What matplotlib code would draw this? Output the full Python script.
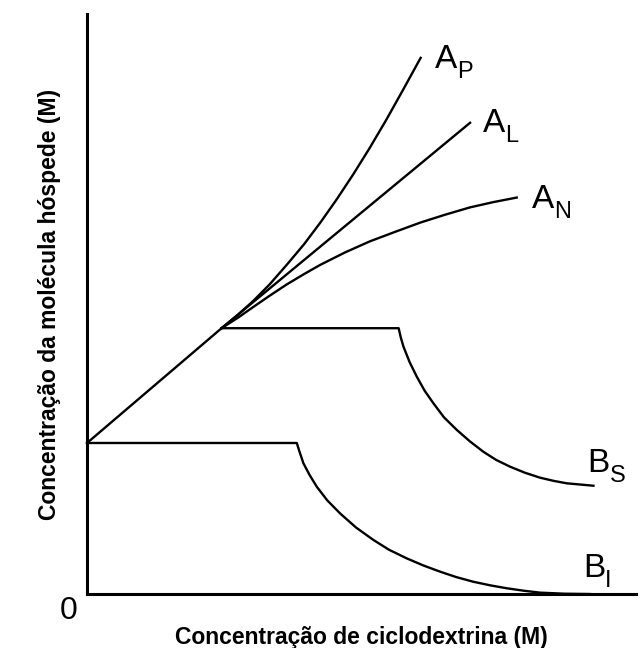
import matplotlib
matplotlib.use("Agg")
import matplotlib.pyplot as plt

# values (arbitrary units)
lin_x = [0.0, 0.98]
lin_y = [1.0, 1.76]

ap_x = [0.98, 1.10, 1.21, 1.33, 1.455, 1.58, 1.70, 1.82, 1.94, 2.06, 2.18, 2.30, 2.43]
ap_y = [1.76, 1.85, 1.94, 2.05, 2.18, 2.315, 2.46, 2.615, 2.78, 2.955, 3.14, 3.335, 3.55]

al_x = [0.98, 2.79]
al_y = [1.76, 3.12]

an_x = [0.98, 1.10, 1.21, 1.33, 1.455, 1.58, 1.70, 1.88, 2.06, 2.25, 2.43, 2.61, 2.79, 2.96, 3.13]
an_y = [1.76, 1.83, 1.90, 1.975, 2.05, 2.118, 2.18, 2.262, 2.335, 2.40, 2.46, 2.512, 2.56, 2.595, 2.625]

bs_x = [0.98, 2.27, 2.285, 2.305, 2.35, 2.402, 2.46, 2.523, 2.60, 2.694, 2.79, 2.887,
        2.98, 3.082, 3.19, 3.301, 3.40, 3.495, 3.689]
bs_y = [1.76, 1.76, 1.70, 1.638, 1.535, 1.439, 1.345, 1.263, 1.17, 1.086, 1.01, 0.942,
        0.888, 0.843, 0.803, 0.770, 0.749, 0.733, 0.717]

bi_x = [0.0, 1.528, 1.545, 1.576, 1.62, 1.673, 1.75, 1.843, 1.96, 2.086, 2.20, 2.329,
        2.45, 2.572, 2.69, 2.815, 2.94, 3.058, 3.18, 3.301, 3.48, 3.665]
bi_y = [1.0, 1.0, 0.95, 0.866, 0.79, 0.711, 0.62, 0.534, 0.44, 0.358, 0.293, 0.236,
        0.189, 0.148, 0.112, 0.081, 0.057, 0.038, 0.022, 0.009, 0.002, 0.0]

plt.rcParams['font.family'] = ['Liberation Sans', 'DejaVu Sans']

fig = plt.figure(figsize=(6.4, 6.48), dpi=100)
ax = fig.add_axes([0.136, 0.0833, 0.858, 0.895])

lw = 1.7
for xs, ys in [(lin_x, lin_y), (ap_x, ap_y), (al_x, al_y), (an_x, an_y), (bs_x, bs_y), (bi_x, bi_y)]:
    ax.plot(xs, ys, color='black', lw=lw, clip_on=False, solid_joinstyle='round')

ax.set_xlim(0, 4.0)
ax.set_ylim(0, 3.84)
for s in ['top', 'right']:
    ax.spines[s].set_visible(False)
for s in ['left', 'bottom']:
    ax.spines[s].set_linewidth(2.2)
ax.set_xticks([])
ax.set_yticks([])

# curve labels: big letter plus a lowered subscript
labels = [('A', 'P', ap_x[-1], ap_y[-1], 14, -10),
          ('A', 'L', al_x[-1], al_y[-1], 13, -9),
          ('A', 'N', an_x[-1], an_y[-1], 15, -10),
          ('B', 'S', bs_x[-1], bs_y[-1], -6, 14),
          ('B', 'I', bi_x[-1], bi_y[-1], -7, 17)]
for big, sub, x, y, dx, dy in labels:
    ax.annotate(big, (x, y), xytext=(dx, dy), textcoords='offset pixels',
                ha='left', va='baseline', fontsize=24, annotation_clip=False)
    ax.annotate(sub, (x, y), xytext=(dx + 22, dy - 10), textcoords='offset pixels',
                ha='left', va='baseline', fontsize=17, annotation_clip=False)

ax.annotate('0', (0, 0), xytext=(-18, -17), textcoords='offset pixels',
            ha='center', va='center', fontsize=23, annotation_clip=False)

ax.set_xlabel('Concentração de ciclodextrina (M)', fontsize=16.5, fontweight='bold', labelpad=23)
ax.set_ylabel('Concentração da molécula hóspede (M)', fontsize=16.5, fontweight='bold', labelpad=19)

fig.savefig('out.png', dpi=100)
